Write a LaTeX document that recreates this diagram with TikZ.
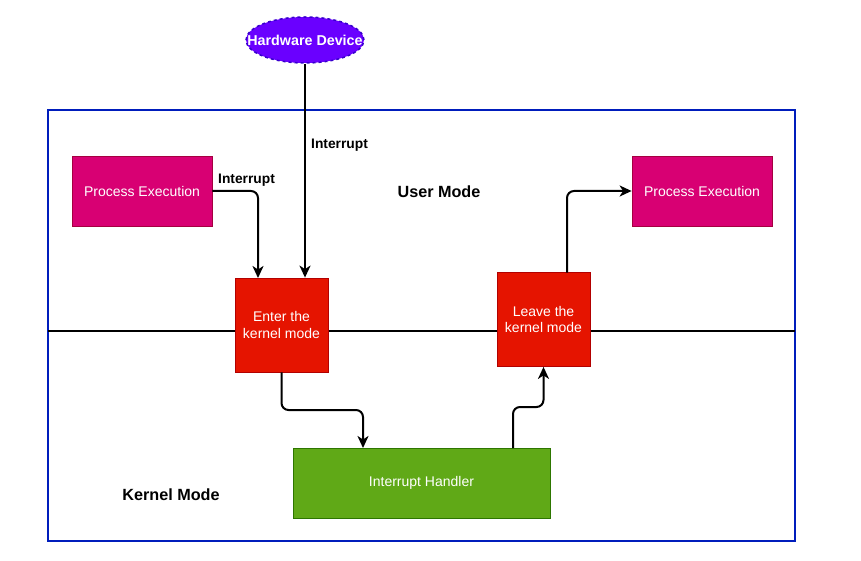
\documentclass[tikz,border=0pt]{standalone}
\usepackage{fontspec}
\setmainfont{Liberation Sans}
\usetikzlibrary{arrows.meta,shapes.geometric}
\definecolor{frameblue}{HTML}{001DBC}
\definecolor{pinkfill}{HTML}{D80073}
\definecolor{pinkdraw}{HTML}{A50040}
\definecolor{redfill}{HTML}{E51400}
\definecolor{reddraw}{HTML}{B20000}
\definecolor{greenfill}{HTML}{60A917}
\definecolor{greendraw}{HTML}{2D7600}
\definecolor{violetfill}{HTML}{6A00FF}
\definecolor{violetdraw}{HTML}{3700CC}
\begin{document}
\begin{tikzpicture}[x=1pt,y=-1pt,
  boxbase/.style={rectangle,draw,line width=0.8pt,text=white,inner sep=0pt,align=center,font=\fontsize{14}{16.5}\selectfont},
  procbox/.style={boxbase,fill=pinkfill,draw=pinkdraw,minimum width=140pt,minimum height=70pt},
  kernbox/.style={boxbase,fill=redfill,draw=reddraw,minimum width=93pt,minimum height=94pt},
  handbox/.style={boxbase,fill=greenfill,draw=greendraw,minimum width=257pt,minimum height=70pt},
  conn/.style={line width=2pt,rounded corners=7pt,-{Stealth[length=12pt,width=11pt,inset=3.5pt]}},
  lbl/.style={font=\bfseries\fontsize{13.8}{16}\selectfont,inner sep=0pt},
  modelbl/.style={font=\bfseries\fontsize{16.2}{18}\selectfont,inner sep=0pt}]
\useasboundingbox (0,0) rectangle (861,561);
\draw[frameblue,line width=2pt] (48,110) rectangle (795,541);
\coordinate (hl) at (48,331);
\coordinate (hr) at (795,331);
\draw[line width=2pt] (hl) -- (hr);
\node[procbox] (pe1) at (142,191) {Process Execution};
\node[procbox] (pe2) at (702,191) {Process Execution};
\node[kernbox] (enter) at (281.5,325) {Enter the\\kernel mode};
\node[kernbox] (leave) at (543.5,319.5) {Leave the\\kernel mode};
\node[handbox] (ih) at (421.5,483) {Interrupt Handler};
\node[ellipse,fill=violetfill,draw=violetdraw,dashed,line width=1.5pt,minimum width=118pt,minimum height=46pt,inner sep=0pt] (hw) at (305,40) {};
\node[text=white,font=\bfseries\fontsize{14.3}{16}\selectfont,inner sep=0pt] (hwt) at (hw.center) {Hardware Device};
\node[modelbl] (um) at (439,192) {User Mode};
\node[modelbl] (km) at (171,495) {Kernel Mode};
\node[lbl,anchor=west] (int1) at (311,145) {Interrupt};
\node[lbl,anchor=west] (int2) at (218,180) {Interrupt};
\draw[conn] (hw.south) -- (hw.south |- enter.north);
\draw[conn] (pe1.east) -- (258,191) -- (258,278);
\draw[conn] (enter.south) -- (281.5,410) -- (363,410) -- (363,448);
\draw[conn] (513,448) -- (513,407) -- (543.5,407) -- (leave.south);
\draw[conn] (567,272.5) -- (567,191) -- (pe2.west);
\end{tikzpicture}
\end{document}
